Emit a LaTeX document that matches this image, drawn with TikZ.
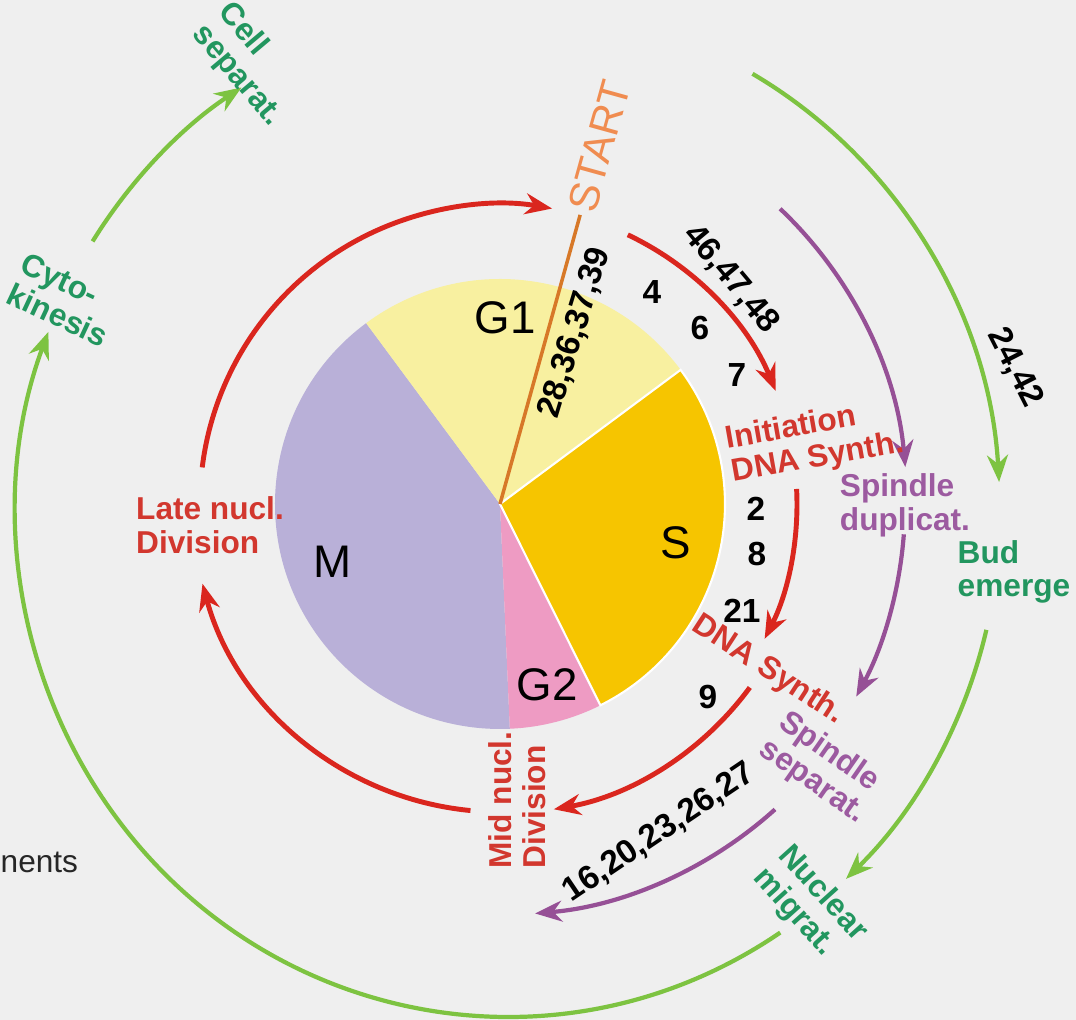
\documentclass[tikz,border=0pt]{standalone}
\usepackage{fontspec}
\setmainfont{Liberation Sans}
\usepackage{tikz}
\usetikzlibrary{arrows.meta}
\definecolor{myred}{RGB}{218,38,30}
\definecolor{mylblred}{RGB}{210,55,46}
\definecolor{mypurple}{RGB}{150,80,150}
\definecolor{mylblpurple}{RGB}{156,90,160}
\definecolor{mygreen}{RGB}{125,195,65}
\definecolor{mydkgreen}{RGB}{34,150,95}
\definecolor{myorange}{RGB}{215,120,40}
\definecolor{mystart}{RGB}{240,140,80}
\definecolor{mybg}{RGB}{239,239,239}
\definecolor{myyellow}{RGB}{248,240,160}
\definecolor{mygold}{RGB}{246,197,0}
\definecolor{mypink}{RGB}{238,155,195}
\definecolor{mylilac}{RGB}{185,176,216}

\begin{document}
\begin{tikzpicture}[
        arrtip/.style={-{Stealth[length=0.27cm,width=0.21cm]}},
        redarr/.style={arrtip, draw=myred, line width=1.4pt},
        purarr/.style={arrtip, draw=mypurple, line width=1.2pt},
        grnarr/.style={arrtip, draw=mygreen, line width=1.2pt},
        lbl/.style={font=\fontsize{9}{9.6}\selectfont\bfseries, align=left, inner sep=0pt},
        num/.style={font=\fontsize{9.5}{11}\selectfont\bfseries, inner sep=0pt},
        phase/.style={font=\fontsize{13}{15}\selectfont, inner sep=0pt}]
        \useasboundingbox (-5.00,-5.16) rectangle (5.76,5.04);
        \fill[mybg] (-5.00,-5.16) rectangle (5.76,5.04);

        \fill[mylilac] (0,0) -- (126.5:2.25) arc[start angle=126.5, end angle=272.5, radius=2.25] -- cycle;
        \fill[mypink] (0,0) -- (272.5:2.25) arc[start angle=272.5, end angle=296.5, radius=2.25] -- cycle;
        \fill[myyellow] (0,0) -- (36.6:2.25) arc[start angle=36.6, end angle=126.5, radius=2.25] -- cycle;
        \filldraw[fill=mygold, draw=white, line width=0.6pt] (0,0) -- (296.5:2.25) arc[start angle=296.5, end angle=396.6, radius=2.25] -- cycle;

        \node[phase] (G1) at (0.05,1.86) {G1};
        \node[phase] (M) at (-1.67,-0.58) {M};
        \node[phase] (S) at (1.76,-0.39) {S};
        \node[phase] (G2) at (0.47,-1.81) {G2};

        \coordinate (O) at (0,0);
        \coordinate (st) at (74.5:3.0);
        \draw[myorange, line width=1pt] (O) -- (st);
        \node[rotate=74.5, anchor=west, inner sep=1pt, text=mystart, font=\fontsize{12}{14}\selectfont] (start) at (st) {START};

        % red: nuclear cycle
        \coordinate (r1) at (173:3.0);
        \coordinate (r2) at (64.6:2.98);
        \coordinate (r3) at (2.9:2.97);
        \coordinate (r4) at (-36.3:3.1);
        \coordinate (r5) at (-95.5:3.08);
        \draw[redarr] (r1) arc[start angle=173, end angle=80, radius=3.0];
        \draw[redarr] (r2) arc[start angle=64.6, end angle=22.3, radius=2.98];
        \draw[redarr] (r3) arc[start angle=2.9, end angle=-27, radius=2.97];
        \draw[redarr] (r4) arc[start angle=-36.3, end angle=-80, radius=3.1];
        \draw[redarr] (r5) arc[start angle=-95.5, end angle=-165, radius=3.08];

        % purple: spindle
        \coordinate (p1) at (46.5:4.07);
        \coordinate (p2) at (-4.3:4.05);
        \coordinate (p3) at (-48:4.11);
        \draw[purarr] (p1) arc[start angle=46.5, end angle=5.2, radius=4.07];
        \draw[purarr] (p2) arc[start angle=-4.3, end angle=-28.4, radius=4.05];
        \draw[purarr] (p3) arc[start angle=-48, end angle=-85.1, radius=4.11];

        % green: cytoplasm
        \begin{scope}[shift={(0.08,-0.08)}]
        \coordinate (g1) at (60.2:4.92 and 5.05);
        \coordinate (g2) at (-13.5:4.92 and 5.05);
        \coordinate (g3) at (-56.4:4.92 and 5.05);
        \coordinate (g4) at (147.6:4.92 and 5.05);
        \draw[grnarr] (g1) arc[start angle=60.2, end angle=3.4, x radius=4.92, y radius=5.05];
        \draw[grnarr] (g2) arc[start angle=-13.5, end angle=-46.6, x radius=4.92, y radius=5.05];
        \draw[grnarr] (g3) arc[start angle=-56.4, end angle=-200.9, x radius=4.92, y radius=5.05];
        \draw[grnarr] (g4) arc[start angle=147.6, end angle=122.8, x radius=4.92, y radius=5.05];
        \end{scope}

        \node[num, rotate=73] (n28) at (0.75,1.71) {28,36,37,39};
        \node[num] (n4) at (1.52,2.12) {4};
        \node[num] (n6) at (2.00,1.76) {6};
        \node[num] (n7) at (2.37,1.29) {7};
        \node[num, rotate=-50] (n46) at (2.31,2.25) {46,47,48};
        \node[num, rotate=-63] (n24) at (5.15,1.36) {24,42};
        \node[num] (n2) at (2.56,-0.05) {2};
        \node[num] (n8) at (2.57,-0.50) {8};
        \node[num] (n21) at (2.42,-1.07) {21};
        \node[num] (n9) at (2.08,-1.93) {9};
        \node[num, rotate=34] (n16) at (1.59,-3.29) {16,20,23,26,27};

        \node[lbl, text=mylblred, rotate=10] (init) at (3.15,0.62) {Initiation\\DNA Synth.};
        \node[lbl, text=mylblred] (late) at (-2.90,-0.21) {Late nucl.\\Division};
        \node[lbl, text=mylblred, rotate=90] (mid) at (0.17,-2.96) {Mid nucl.\\Division};
        \node[lbl, text=mylblred, rotate=-33] (dna) at (2.68,-1.66) {DNA Synth.};
        \node[lbl, text=mylblpurple] (spdup) at (4.05,-0.01) {Spindle\\duplicat.};
        \node[lbl, text=mylblpurple, rotate=-35] (spsep) at (3.22,-2.64) {Spindle\\separat.};
        \node[lbl, text=mydkgreen] (bud) at (5.14,-0.68) {Bud\\emerge};
        \node[lbl, text=mydkgreen, rotate=-48] (nuc) at (3.10,-4.01) {Nuclear\\migrat.};
        \node[lbl, text=mydkgreen, rotate=-25] (cyto) at (-4.35,2.04) {Cyto-\\kinesis};
        \node[lbl, text=mydkgreen, rotate=-50] (cell) at (-2.50,4.39) {Cell\\separat.};

        \node[anchor=west, inner sep=0pt, text=black!85, font=\fontsize{9}{11}\selectfont] (nents) at (-5.0,-3.58) {nents};
    \end{tikzpicture}
\end{document}
